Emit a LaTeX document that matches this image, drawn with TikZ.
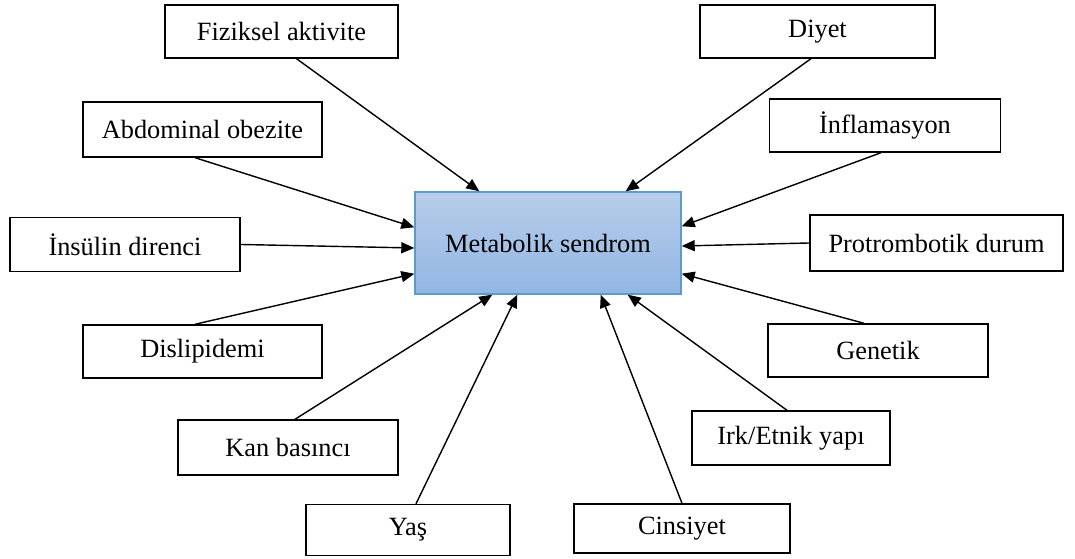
\documentclass[tikz,border=0pt]{standalone}
\usepackage{fontspec}
\setmainfont{Liberation Serif}
\usetikzlibrary{arrows.meta}

\definecolor{metoben}{RGB}{184,205,234}
\definecolor{metunten}{RGB}{146,182,227}
\definecolor{metrand}{RGB}{91,155,213}

\tikzset{
	faktor/.style={draw=black, line width=0.8pt, fill=white, inner sep=0pt, font=\fontsize{15}{18}\selectfont},
	pfeil/.style={-{Triangle[length=2.6mm,width=2.2mm]}, line width=0.8pt}
}

\begin{document}
\begin{tikzpicture}
	\useasboundingbox (0,0) rectangle (21.5,11.18);

	%Hauptknoten
	\node [draw=metrand, line width=0.8pt, top color=metoben, bottom color=metunten, minimum width=5.32cm, minimum height=2.04cm, font=\fontsize{15}{18}\selectfont] (met) at (10.96,6.32) {Metabolik sendrom};

	%Faktoren links
	\node [faktor, minimum width=4.66cm, minimum height=1.06cm] (fiz) at (5.63,10.55) {Fiziksel aktivite};
	\node [faktor, minimum width=4.78cm, minimum height=1.10cm] (abd) at (4.05,8.59) {Abdominal obezite};
	\node [faktor, minimum width=4.60cm, minimum height=1.08cm] (ins) at (2.50,6.29) {İnsülin direnci};
	\node [faktor, minimum width=4.78cm, minimum height=1.06cm] (dis) at (4.05,4.15) {Dislipidemi};
	\node [faktor, minimum width=4.40cm, minimum height=1.10cm] (kan) at (5.76,2.23) {Kan basıncı};
	\node [faktor, minimum width=4.08cm, minimum height=1.02cm] (yas) at (8.16,0.58) {Yaş};

	%Faktoren rechts
	\node [faktor, minimum width=4.70cm, minimum height=1.06cm] (diyet) at (16.35,10.55) {Diyet};
	\node [faktor, minimum width=4.62cm, minimum height=1.06cm] (infl) at (17.70,8.67) {İnflamasyon};
	\node [faktor, minimum width=5.06cm, minimum height=1.12cm] (prot) at (18.73,6.32) {Protrombotik durum};
	\node [faktor, minimum width=4.40cm, minimum height=1.06cm] (gen) at (17.56,4.17) {Genetik};
	\node [faktor, minimum width=3.96cm, minimum height=1.08cm] (irk) at (15.82,2.42) {Irk/Etnik yapı};
	\node [faktor, minimum width=4.32cm, minimum height=0.98cm] (cins) at (13.64,0.61) {Cinsiyet};

	%Pfeile links
	\draw [pfeil] ([xshift=0.3cm]fiz.south) -- ([xshift=1.30cm]met.north west);
	\draw [pfeil] ([xshift=-0.15cm]abd.south) -- ([yshift=-0.72cm]met.north west);
	\draw [pfeil] (ins.east) -- ([yshift=-0.10cm]met.west);
	\draw [pfeil] ([xshift=-0.15cm]dis.north) -- ([yshift=0.42cm]met.south west);
	\draw [pfeil] ([xshift=0.14cm]kan.north) -- ([xshift=1.56cm]met.south west);
	\draw [pfeil] ([xshift=0.16cm]yas.north) -- ([xshift=2.06cm]met.south west);

	%Pfeile rechts
	\draw [pfeil] ([xshift=-0.13cm]diyet.south) -- ([xshift=-1.12cm]met.north east);
	\draw [pfeil] ([xshift=-0.08cm]infl.south) -- ([yshift=-0.70cm]met.north east);
	\draw [pfeil] (prot.west) -- ([yshift=-0.06cm]met.east);
	\draw [pfeil] ([xshift=-0.28cm]gen.north) -- ([yshift=0.42cm]met.south east);
	\draw [pfeil] ([xshift=-0.08cm]irk.north) -- ([xshift=-1.08cm]met.south east);
	\draw [pfeil] (cins.north) -- ([xshift=-1.62cm]met.south east);

\end{tikzpicture}
\end{document}
